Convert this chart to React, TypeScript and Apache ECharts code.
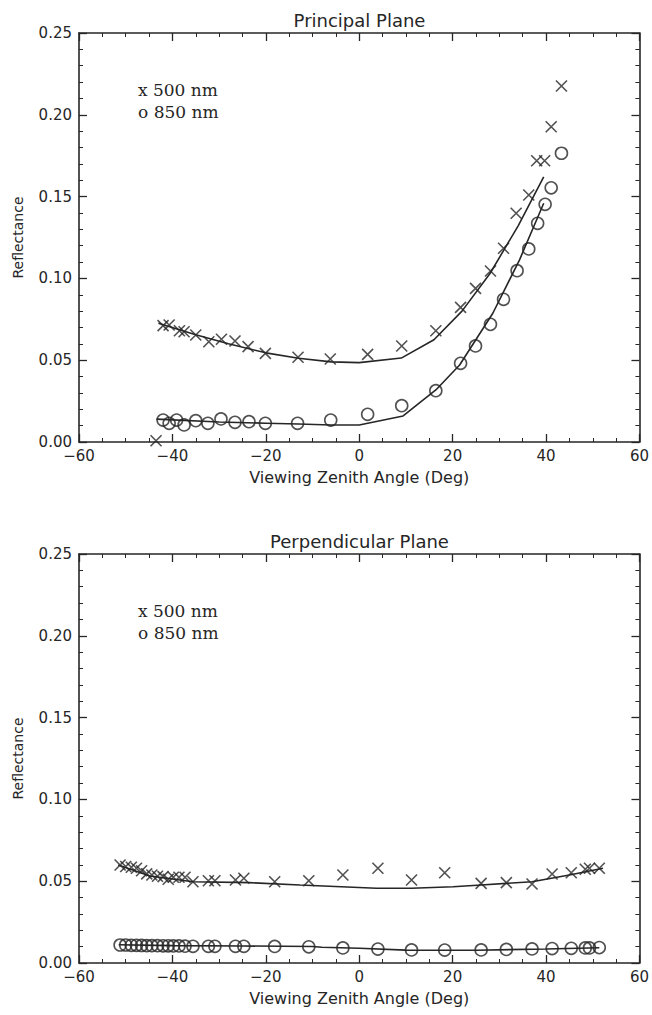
import React, { useEffect, useRef } from "react";
import * as echarts from "echarts";

// ---------- DATA ----------
// Principal plane, 500 nm (x marks)
const topX500 = [-43.5, -42.0, -40.7, -38.5, -37.5, -35.0, -32.2, -29.5, -26.6, -23.8, -20.1, -13.1, -6.2, 1.8, 9.1, 16.4, 21.7, 24.9, 28.1, 30.9, 33.6, 36.3, 38.0, 39.7, 41.1, 43.3];
const topY500 = [0.0008, 0.0711, 0.0715, 0.0680, 0.0674, 0.0654, 0.0613, 0.0628, 0.0617, 0.0583, 0.0542, 0.0518, 0.0507, 0.0536, 0.0587, 0.0680, 0.0823, 0.0939, 0.1045, 0.1184, 0.1398, 0.1510, 0.1719, 0.1719, 0.1927, 0.2176];
// Principal plane, 850 nm (o marks)
const topX850 = [-42.0, -40.7, -39.1, -37.5, -35.0, -32.4, -29.6, -26.6, -23.6, -20.1, -13.2, -6.1, 1.8, 9.1, 16.4, 21.7, 24.9, 28.1, 30.9, 33.8, 36.3, 38.2, 39.8, 41.1, 43.3];
const topY850 = [0.0134, 0.0114, 0.0134, 0.0104, 0.0130, 0.0114, 0.0141, 0.0120, 0.0124, 0.0114, 0.0114, 0.0134, 0.0169, 0.0222, 0.0314, 0.0481, 0.0587, 0.0719, 0.0872, 0.1047, 0.1180, 0.1337, 0.1453, 0.1554, 0.1765];
// Principal plane model curves
const topLineX500 = [-43, -35, -28, -20, -13, -6, 0, 9, 16, 22, 28, 34, 39.5];
const topLineY500 = [0.0726, 0.0655, 0.0600, 0.0545, 0.0512, 0.0490, 0.0485, 0.0513, 0.0625, 0.0800, 0.1030, 0.1320, 0.1620];
const topLineX850 = [-43.4, -30, -20, -13, -6, 0, 9.4, 16.4, 21.5, 28.6, 34.3, 39.5];
const topLineY850 = [0.0140, 0.0122, 0.0115, 0.0110, 0.0104, 0.0104, 0.0159, 0.0318, 0.0471, 0.0787, 0.1112, 0.1459];

// Perpendicular plane (same view angles for both wavelengths)
const botX = [-51.2, -50.0, -48.8, -47.7, -46.6, -45.5, -44.4, -43.2, -42.0, -40.9, -39.8, -38.6, -37.3, -35.6, -32.3, -30.9, -26.5, -24.7, -18.1, -10.8, -3.5, 4.0, 11.2, 18.3, 26.1, 31.5, 37.0, 41.3, 45.4, 48.4, 49.3, 51.4];
const botY500 = [0.0599, 0.0590, 0.0585, 0.0579, 0.0564, 0.0545, 0.0538, 0.0530, 0.0528, 0.0512, 0.0524, 0.0524, 0.0524, 0.0497, 0.0503, 0.0503, 0.0507, 0.0518, 0.0497, 0.0503, 0.0538, 0.0579, 0.0507, 0.0552, 0.0487, 0.0491, 0.0483, 0.0544, 0.0552, 0.0573, 0.0579, 0.0579];
const botY850 = [0.0110, 0.0110, 0.0108, 0.0108, 0.0107, 0.0106, 0.0106, 0.0106, 0.0105, 0.0105, 0.0104, 0.0104, 0.0103, 0.0102, 0.0102, 0.0102, 0.0102, 0.0102, 0.0101, 0.0099, 0.0092, 0.0085, 0.0080, 0.0079, 0.0080, 0.0083, 0.0086, 0.0088, 0.0090, 0.0092, 0.0092, 0.0094];
const botLineX500 = [-51.6, -44.8, -35.6, -23.4, -12.7, 3.7, 11.2, 20.1, 26.1, 37, 45, 52.2];
const botLineY500 = [0.0599, 0.0532, 0.0497, 0.0491, 0.0477, 0.0457, 0.0457, 0.0466, 0.0477, 0.0497, 0.0538, 0.0579];
const botLineX850 = [-51.5, -40, -25, -10, -8, 0, 10, 25, 40, 51.4];
const botLineY850 = [0.0112, 0.0106, 0.0104, 0.0101, 0.0096, 0.0090, 0.0079, 0.0078, 0.0086, 0.0093];

const titles = ["Principal Plane", "Perpendicular Plane"];
const legendLabels = ["x 500 nm", "o 850 nm"];
const xName = "Viewing Zenith Angle (Deg)";
const yName = "Reflectance";

const ink = "#262626";
const zip = (xs: number[], ys: number[]) => xs.map((x, i) => [x, ys[i]]);

const crossPath = "path://M0,0L10,10M10,0L0,10";

export default function App() {
  const ref = useRef<HTMLDivElement>(null);
  useEffect(() => {
    if (!ref.current) return;
    const chart = echarts.init(ref.current, null, { renderer: "svg" });

    const gridTops = [33, 554];
    const gridH = 409;
    const grids = gridTops.map((t) => ({ left: 79, top: t, width: 561, height: gridH, containLabel: false }));

    const tickCommon = {
      axisLine: { show: true, onZero: false, lineStyle: { color: ink, width: 1.6 } },
      axisTick: { show: true, inside: true, length: 8, lineStyle: { color: ink, width: 1.3 } },
      splitLine: { show: false },
    };
    const xAxes: any[] = [];
    const yAxes: any[] = [];
    for (let g = 0; g < 2; g++) {
      xAxes.push({
        type: "value", gridIndex: g, position: "bottom", min: -60, max: 60, interval: 20,
        ...tickCommon,
        minorTick: { show: true, splitNumber: 4, length: 4, lineStyle: { color: ink, width: 1 } },
        axisLabel: {
          show: true, margin: 6, color: ink, fontFamily: "DejaVu Sans", fontSize: 15,
          formatter: (v: number) => String(v).replace("-", "\u2212"),
        },
        name: xName, nameLocation: "middle", nameGap: 27,
        nameTextStyle: { color: ink, fontFamily: "DejaVu Sans", fontSize: 16 },
      });
      xAxes.push({
        type: "value", gridIndex: g, position: "top", min: -60, max: 60, interval: 20,
        ...tickCommon,
        minorTick: { show: true, splitNumber: 4, length: 4, lineStyle: { color: ink, width: 1 } },
        axisLabel: { show: false },
      });
      yAxes.push({
        type: "value", gridIndex: g, position: "left", min: 0, max: 0.25, interval: 0.05,
        ...tickCommon,
        minorTick: { show: true, splitNumber: 5, length: 4, lineStyle: { color: ink, width: 1 } },
        axisLabel: {
          show: true, margin: 7, color: ink, fontFamily: "DejaVu Sans", fontSize: 15,
          formatter: (v: number) => v.toFixed(2),
        },
        name: yName, nameLocation: "middle", nameGap: 54,
        nameTextStyle: { color: ink, fontFamily: "DejaVu Sans", fontSize: 14 },
      });
      yAxes.push({
        type: "value", gridIndex: g, position: "right", min: 0, max: 0.25, interval: 0.05,
        ...tickCommon,
        minorTick: { show: true, splitNumber: 5, length: 4, lineStyle: { color: ink, width: 1 } },
        axisLabel: { show: false },
      });
    }

    const crossStyle = { color: "rgba(0,0,0,0)", borderColor: ink, borderWidth: 1.6 };
    const circleStyle = { color: "rgba(0,0,0,0)", borderColor: ink, borderWidth: 1.6 };
    const lineSeries = (g: number, xs: number[], ys: number[]) => ({
      type: "line", xAxisIndex: g * 2, yAxisIndex: g * 2, data: zip(xs, ys),
      showSymbol: false, symbol: "none", lineStyle: { color: ink, width: 1.6 }, silent: true,
    });
    const crossSeries = (g: number, xs: number[], ys: number[]) => ({
      type: "scatter", xAxisIndex: g * 2, yAxisIndex: g * 2, data: zip(xs, ys),
      symbol: crossPath, symbolSize: 11, itemStyle: crossStyle, silent: true,
    });
    const circleSeries = (g: number, xs: number[], ys: number[]) => ({
      type: "scatter", xAxisIndex: g * 2, yAxisIndex: g * 2, data: zip(xs, ys),
      symbol: "circle", symbolSize: 12, itemStyle: circleStyle, silent: true,
    });

    const graphics: any[] = [];
    gridTops.forEach((t, g) => {
      graphics.push({
        type: "text", x: 359.5, y: t - 13,
        style: { text: titles[g], align: "center", verticalAlign: "middle", font: '18px "DejaVu Sans"', fill: ink },
      });
      legendLabels.forEach((lab, i) => {
        graphics.push({
          type: "text", x: 138, y: t + 57 + i * 22,
          style: { text: lab, align: "left", verticalAlign: "middle", font: '17px "DejaVu Serif"', fill: ink },
        });
      });
    });

    chart.setOption({
      animation: false,
      backgroundColor: "#ffffff",
      grid: grids,
      xAxis: xAxes,
      yAxis: yAxes,
      graphic: graphics,
      series: [
        lineSeries(0, topLineX500, topLineY500),
        lineSeries(0, topLineX850, topLineY850),
        crossSeries(0, topX500, topY500),
        circleSeries(0, topX850, topY850),
        lineSeries(1, botLineX500, botLineY500),
        lineSeries(1, botLineX850, botLineY850),
        crossSeries(1, botX, botY500),
        circleSeries(1, botX, botY850),
      ],
    });
    return () => chart.dispose();
  }, []);
  return (
    <div
      ref={ref}
      style={{ position: "absolute", left: 0, top: 0, width: 652, height: 1015, background: "#fff" }}
    />
  );
}
